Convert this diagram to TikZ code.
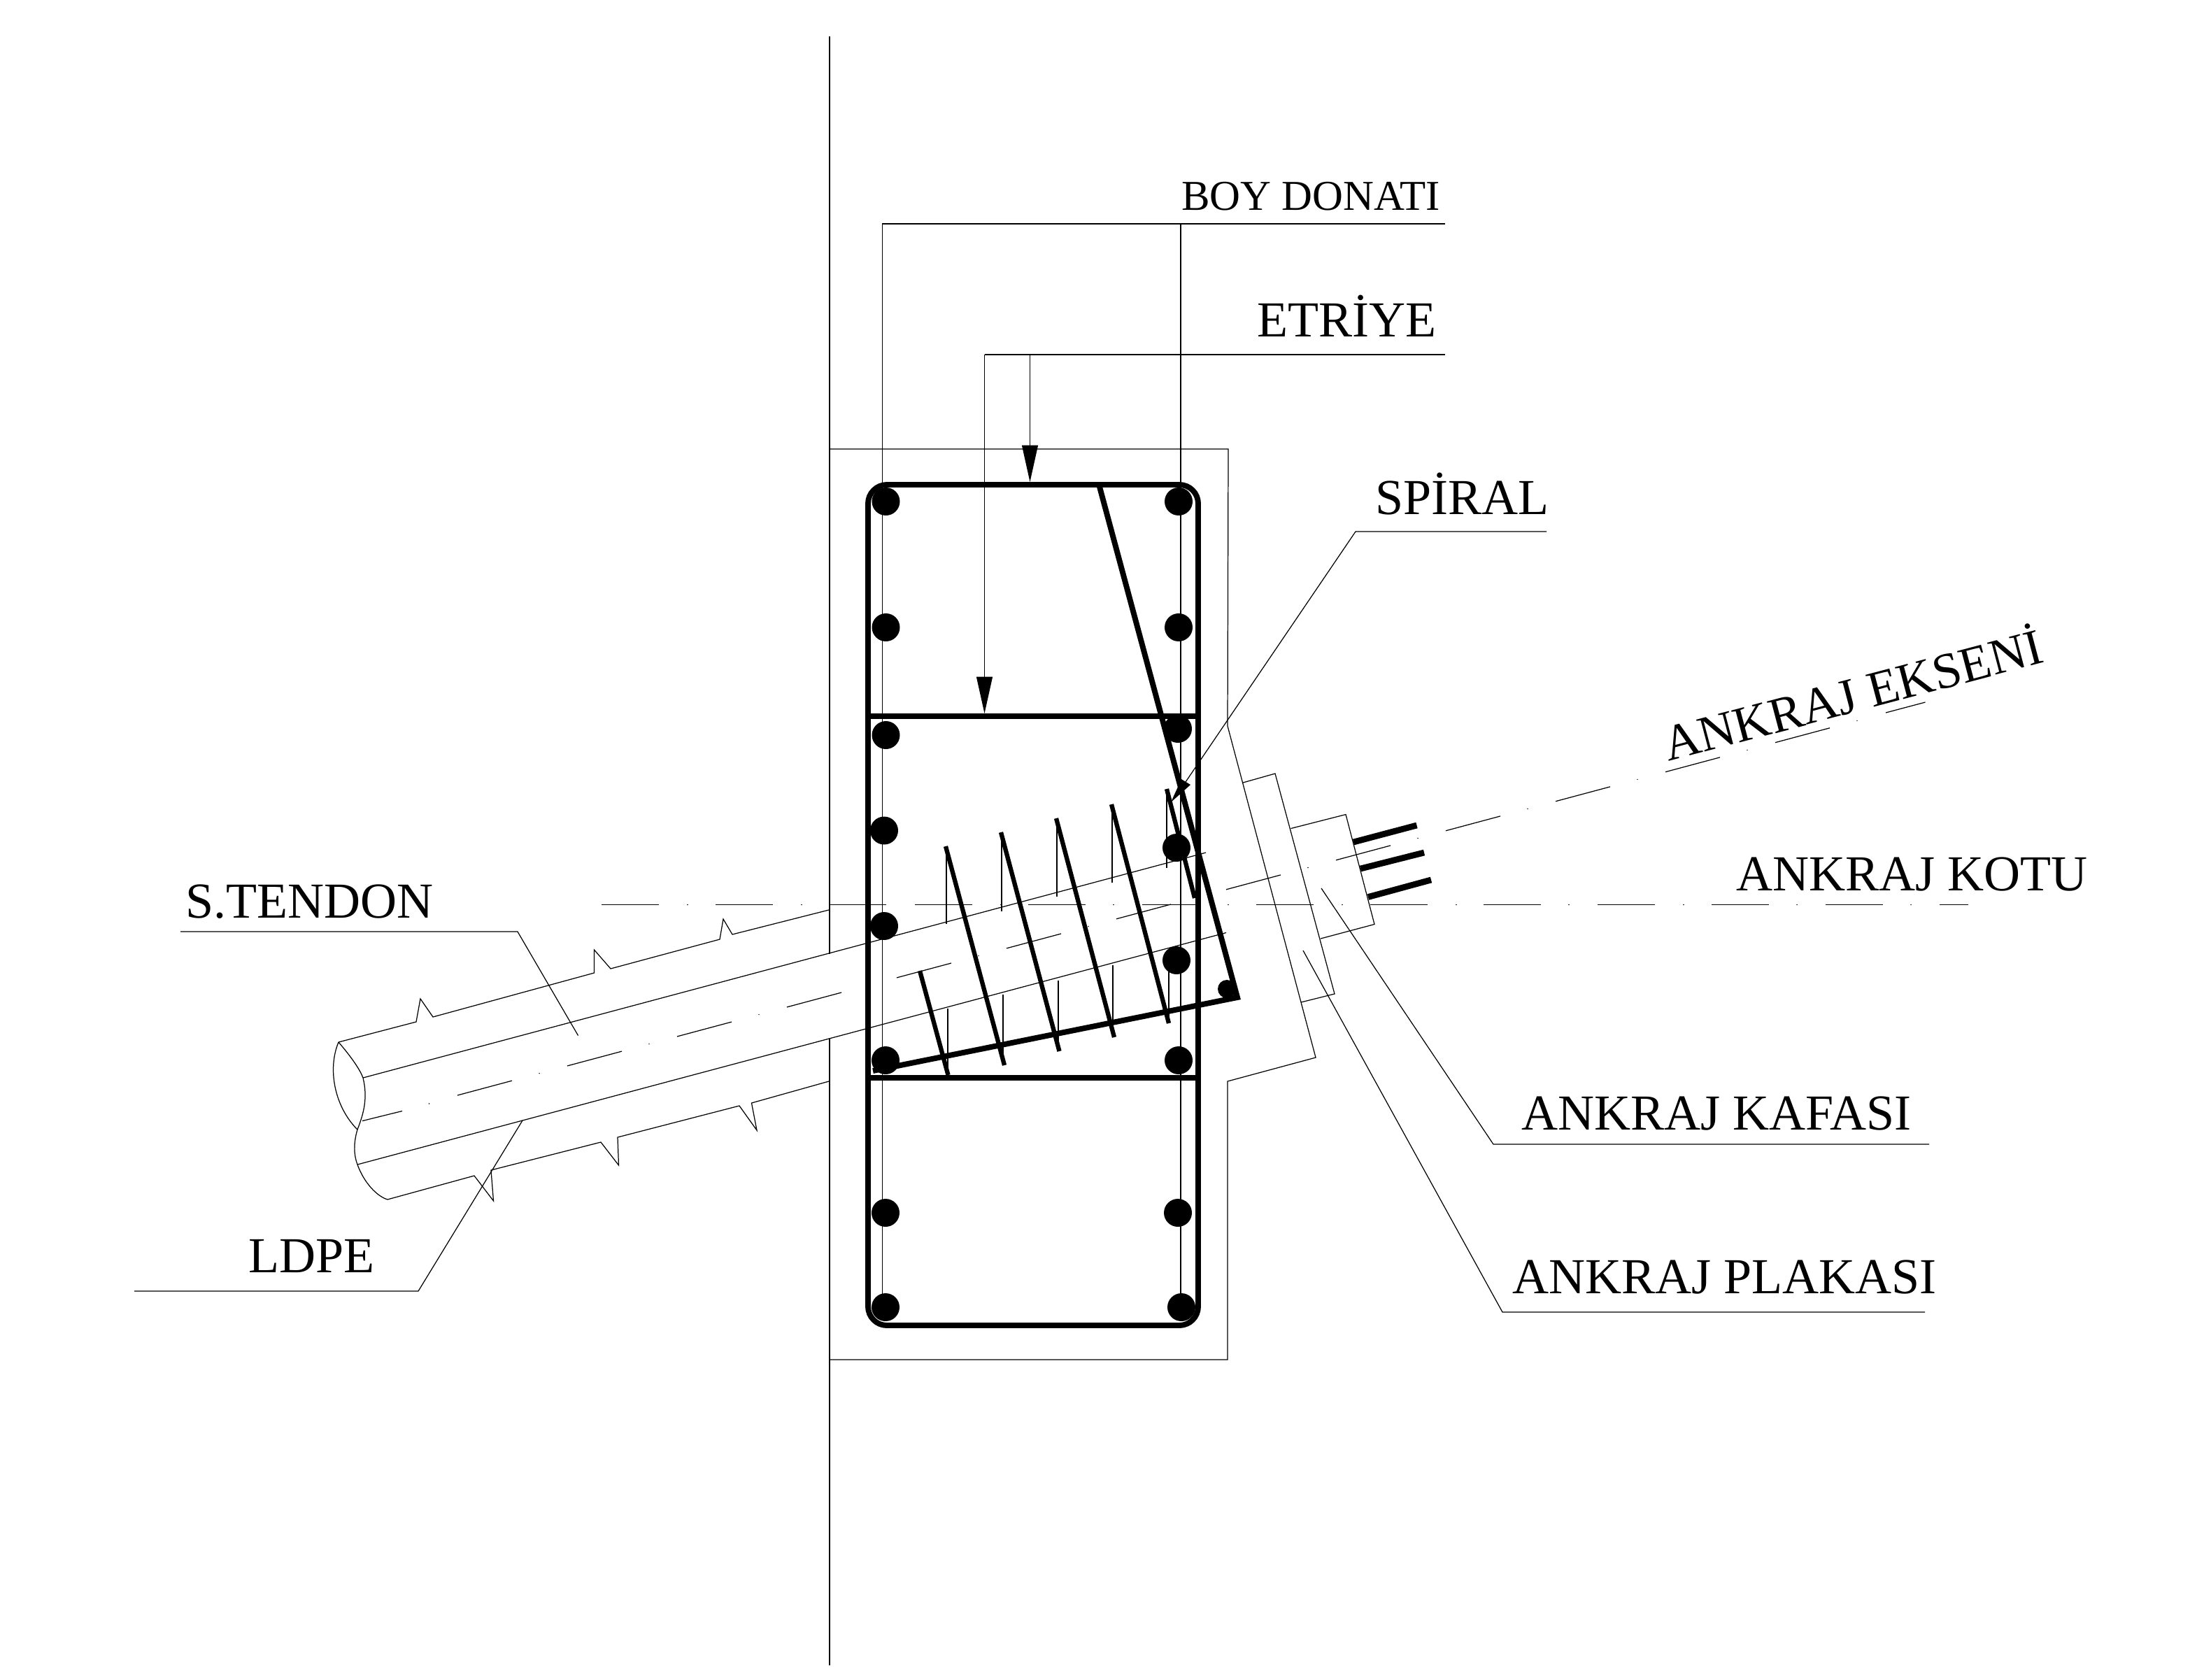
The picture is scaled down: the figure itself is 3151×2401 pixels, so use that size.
\documentclass[tikz,border=0pt]{standalone}
\usepackage{fontspec}
\setmainfont{Liberation Serif}
\usetikzlibrary{arrows.meta}
\tikzset{
  thinline/.style={line width=0.7pt,black,line join=miter},
  thickbar/.style={line width=4.5pt,black,line cap=butt},
  spiralbar/.style={line width=3.6pt,black,line cap=butt},
  strand/.style={line width=5pt,black,line cap=butt},
  bardot/.style={circle,fill=black,inner sep=0pt,minimum size=0.8cm},
  labeltext/.style={inner sep=0pt,anchor=base west,font=\fontsize{41}{45}\selectfont},
  smalltext/.style={inner sep=0pt,anchor=base west,font=\fontsize{34.6}{38}\selectfont},
  leadarrow/.style={thinline,-{Triangle[length=1.05cm,width=.46cm]}}
}
\begin{document}
\begin{tikzpicture}[x=0.02cm,y=-0.02cm]
\useasboundingbox (0,0) rectangle (3151,2401);
\fill[white] (0,0) rectangle (3151,2401);

% wall line
\draw[thinline] (1186,52) -- (1186,1364);
\draw[thinline] (1186,1485) -- (1186,2381);

% concrete outline
\draw[thinline] (1186,642) -- (1756,642) -- (1755,1038) -- (1881,1512) -- (1755,1546) -- (1755,1944) -- (1186,1944);

% tendon: outer LDPE edges with ribs
\draw[thinline] (484,1490) -- (595,1461) -- (601,1428) -- (619,1454) -- (849.5,1391) -- (849.5,1358) -- (873,1385)
  -- (1029,1343) -- (1034,1314) -- (1047,1336) -- (1185,1301);
\draw[thinline] (554,1715) -- (678,1681) -- (705.5,1717) -- (702,1673) -- (859,1633) -- (884.5,1666) -- (883,1626)
  -- (1057,1581) -- (1082,1616) -- (1074.5,1577) -- (1185,1546);
% tendon: inner edges
\draw[thinline] (519,1541) -- (1724,1219);
\draw[thinline] (511,1665) -- (1753,1333.5);
% broken pipe end
\draw[thinline] (484,1490) .. controls (468,1528) and (478,1582) .. (511,1615);
\draw[thinline] (484,1490) .. controls (503,1512) and (515,1530) .. (519,1541)
  .. controls (526,1570) and (520,1592) .. (511,1615)
  .. controls (505,1635) and (506,1652) .. (511,1665)
  .. controls (520,1690) and (538,1710) .. (554,1715);

% anchor axis (dash-dot)
\draw[thinline] (518,1602.6) -- (575,1588.5);
\fill (613.5,1578) circle (0.8);
\foreach \k in {0,...,12}{
  \pgfmathsetmacro{\xa}{654+157*\k}
  \pgfmathsetmacro{\xb}{\xa+78}
  \pgfmathsetmacro{\xd}{\xa+117}
  \draw[thinline] (\xa,{1566-0.2677*(\xa-654)}) -- (\xb,{1566-0.2677*(\xb-654)});
  \fill (\xd,{1566-0.2677*(\xd-654)}) circle (0.8);
}
\draw[thinline] (2696,1019) -- (2752.5,1004);

% level axis (dash-dot)
\foreach \xa in {860,1023,1185,1308,1470,1633,1796,1959,2121,2284,2447,2610}{
  \draw[thinline] (\xa,1293.5) -- ({\xa+82},1293.5);
}
\draw[thinline] (2773,1293.5) -- (2814,1293.5);
\foreach \xd in {983,1146,1431,1592,1756,1919,2082,2243,2407,2569,2732}{
  \fill (\xd,1293.5) circle (0.8);
}

% anchor plate and head
\draw[thinline] (1777,1119) -- (1823,1106) -- (1908,1421) -- (1860,1433);
\draw[thinline] (1845.5,1184.5) -- (1924,1164.5) -- (1965,1321.5) -- (1888,1342);

% strands
\draw[strand] (1935,1204) -- (2025.5,1180);
\draw[strand] (1945,1242) -- (2036,1219);
\draw[strand] (1956,1282.5) -- (2046,1258);

% hidden spiral parts
\foreach \xs/\ya/\yb in {1353/1210/1321,1432/1190/1303,1511/1172/1282,1590/1152/1262,1668/1130/1241,
                         1355/1442/1536,1434/1422/1522,1513/1402/1502,1591/1380/1482,1671/1370/1460}{
  \draw[thinline] (\xs,\ya) -- (\xs,\yb);
}

% leader points
\coordinate (boyA) at (1261.5,1869);
\coordinate (boyB) at (1261.5,320);
\coordinate (boyC) at (2066,320);
\coordinate (boyD) at (1688,320);
\coordinate (boyE) at (1688,1869);
\coordinate (etA) at (2066,507);
\coordinate (etB) at (1407.5,507);
\coordinate (etC) at (1407.5,1020);
\coordinate (etD) at (1472.5,507);
\coordinate (etE) at (1472.5,689);
\coordinate (spA) at (2211,760);
\coordinate (spB) at (1938,760);
\coordinate (spC) at (1695,1118);
\coordinate (kaA) at (2758,1636);
\coordinate (kaB) at (2135,1636);
\coordinate (kaC) at (1889,1270);
\coordinate (plA) at (2752,1876);
\coordinate (plB) at (2148,1876);
\coordinate (plC) at (1863,1359);
\coordinate (stA) at (258,1332);
\coordinate (stB) at (740,1332);
\coordinate (stC) at (826.5,1480.5);
\coordinate (ldA) at (192,1846);
\coordinate (ldB) at (598,1846);
\coordinate (ldC) at (747,1602);

% leaders
\draw[thinline] (boyA) -- (boyB) -- (boyC);
\draw[thinline] (boyD) -- (boyE);
\draw[thinline] (etA) -- (etB);
\draw[leadarrow] (etB) -- (etC);
\draw[leadarrow] (etD) -- (etE);
\draw[thinline] (spA) -- (spB) -- (spC);
\fill (1674,1147) -- (1702,1122) -- (1689,1114) -- cycle;
\draw[thinline] (kaA) -- (kaB) -- (kaC);
\draw[thinline] (plA) -- (plB) -- (plC);
\draw[thinline] (stA) -- (stB) -- (stC);
\draw[thinline] (ldA) -- (ldB) -- (ldC);

% stirrup
\draw[thickbar,rounded corners=0.54cm] (1241,1024) -- (1241,693) -- (1713,693) -- (1713,1895) -- (1241,1895) -- (1241,1024);
\draw[thickbar] (1241,1024) -- (1713,1024);
\draw[thickbar] (1241,1541) -- (1713,1541);

% spiral bars
\foreach \xa/\ya/\xb/\yb in {1315/1388/1355.5/1537,1352/1210/1436/1523,1431/1190/1514.5/1503,
                             1510/1170/1593/1483,1589/1150/1671/1463,1668/1128/1708/1284}{
  \draw[spiralbar] (\xa,\ya) -- (\xb,\yb);
}
% bursting stirrup
\draw[thickbar,line join=miter] (1572,696) -- (1769,1426) -- (1248,1531);

% longitudinal bars
\foreach \n/\xa/\ya in {a/1266.5/717,b/1266.5/897,c/1266.5/1051,d/1264/1187.5,e/1264/1324,f/1266/1516,g/1266/1734,h/1266/1869,
                        i/1685/717,j/1685/897,k/1684/1042,l/1682/1212,m/1682/1373,n/1685/1516,o/1684/1734,p/1689/1869}{
  \node[bardot] (bar\n) at (\xa,\ya) {};
}
\node[bardot,minimum size=0.52cm] (barq) at (1754,1414) {};

% labels
\node[smalltext] (lboy) at (1689,300) {BOY DONATI};
\node[labeltext] (let) at (1797.5,481.7) {ETRİYE};
\node[labeltext] (lsp) at (1966,735) {SPİRAL};
\node[labeltext,rotate=14.8] (lek) at (2385,1089) {ANKRAJ EKSENİ};
\node[labeltext] (lko) at (2482,1273) {ANKRAJ KOTU};
\node[labeltext] (lka) at (2175,1615) {ANKRAJ KAFASI};
\node[labeltext] (lpl) at (2162,1849) {ANKRAJ PLAKASI};
\node[labeltext] (lst) at (265,1312) {S.TENDON};
\node[labeltext] (lld) at (355,1819) {LDPE};
\end{tikzpicture}
\end{document}
